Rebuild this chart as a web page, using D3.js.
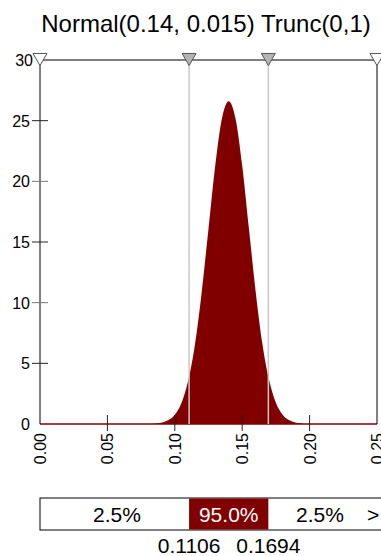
<!DOCTYPE html>
<html>
<head>
<meta charset="utf-8">
<script src="https://cdn.jsdelivr.net/npm/d3@7"></script>
<style>
  body { margin: 0; background: #fff; }
  svg { font-family: "Liberation Sans", Arial, sans-serif; }
</style>
</head>
<body>
<svg width="381" height="556"></svg>
<script>
const title = "Normal(0.14, 0.015) Trunc(0,1)"

// density
const xs = [0, 0.05, 0.075, 0.08, 0.085, 0.09, 0.095, 0.10, 0.105, 0.11, 0.115, 0.12, 0.125, 0.13, 0.135, 0.14,
            0.145, 0.15, 0.155, 0.16, 0.165, 0.17, 0.175, 0.18, 0.185, 0.19, 0.195, 0.20, 0.205, 0.25]
const density = [0, 0, 0.002, 0.009, 0.03, 0.10, 0.30, 0.76, 1.75, 3.6, 6.6, 10.9, 16.1, 21.3, 25.2, 26.6,
                 25.2, 21.3, 16.1, 10.9, 6.6, 3.6, 1.75, 0.76, 0.30, 0.10, 0.03, 0.009, 0.002, 0]

const xTicks = [0, 0.05, 0.10, 0.15, 0.20, 0.25]
const yTicks = [0, 5, 10, 15, 20, 25, 30]
const cutoffs = [0.1106, 0.1694]
const bandLabels = ["2.5%", "95.0%", "2.5%"]

const svg = d3.select("svg")

const x = d3.scaleLinear().domain([0, 0.25]).range([40, 377])
const y = d3.scaleLinear().domain([0, 30]).range([424, 60])

svg.append("text")
    .attr("x", 206)
    .attr("y", 32)
    .attr("text-anchor", "middle")
    .style("font-size", "24px")
    .text(title)

// area
const area = d3.area()
    .x((d, i) => x(xs[i]))
    .y0(y(0))
    .y1(d => y(d))
    .curve(d3.curveMonotoneX)

svg.append("path")
    .datum(density)
    .attr("d", area)
    .attr("fill", "#800000")

// baseline
svg.append("line")
    .attr("x1", x(0)).attr("x2", x(0.25))
    .attr("y1", y(0)).attr("y2", y(0))
    .attr("stroke", "#800000")
    .attr("stroke-width", 1.5)

// cutoff lines
svg.selectAll("line.cut")
    .data(cutoffs)
    .enter()
    .append("line")
    .attr("class", "cut")
    .attr("x1", d => x(d)).attr("x2", d => x(d))
    .attr("y1", y(30)).attr("y2", y(0))
    .attr("stroke", "#c8c8c8")
    .attr("stroke-width", 1.5)

// left / right axis lines
svg.append("line")
    .attr("x1", x(0)).attr("x2", x(0))
    .attr("y1", y(30)).attr("y2", y(0))
    .attr("stroke", "#000")
svg.append("line")
    .attr("x1", x(0.25)).attr("x2", x(0.25))
    .attr("y1", y(30)).attr("y2", y(0))
    .attr("stroke", "#000")

// top line
svg.append("line")
    .attr("x1", x(0)).attr("x2", x(0.25))
    .attr("y1", y(30)).attr("y2", y(30))
    .attr("stroke", "#555")
    .attr("stroke-width", 1.5)

// y ticks
const yAxis = svg.append("g")
yAxis.selectAll("line")
    .data(yTicks.filter(d => d > 0 && d < 30))
    .enter()
    .append("line")
    .attr("x1", x(0) - 8).attr("x2", x(0) + 8)
    .attr("y1", d => y(d)).attr("y2", d => y(d))
    .attr("stroke", (d, i) => i % 2 ? "#777" : "#222")
yAxis.selectAll("text")
    .data(yTicks)
    .enter()
    .append("text")
    .attr("x", d => d === 30 ? 33 : 30)
    .attr("y", d => y(d) + 6)
    .attr("text-anchor", "end")
    .style("font-size", "16px")
    .text(d => d)

// x ticks
const xAxis = svg.append("g")
xAxis.selectAll("line")
    .data(xTicks.slice(1, -1))
    .enter()
    .append("line")
    .attr("x1", d => x(d)).attr("x2", d => x(d))
    .attr("y1", y(0) - 9).attr("y2", y(0) + 7)
    .attr("stroke", "#222")
xAxis.selectAll("text")
    .data(xTicks)
    .enter()
    .append("text")
    .attr("transform", d => `translate(${x(d) + 6},${y(0) + 9}) rotate(-90)`)
    .attr("text-anchor", "end")
    .style("font-size", "16px")
    .text(d => d.toFixed(2))

// markers
const tri = d3.symbol().type(d3.symbolTriangle).size(85)
const markers = [0, ...cutoffs, 0.25]
svg.selectAll("path.marker")
    .data(markers)
    .enter()
    .append("path")
    .attr("class", "marker")
    .attr("d", tri)
    .attr("transform", d => `translate(${x(d)},${y(30) - 2.5}) rotate(180)`)
    .attr("fill", d => cutoffs.includes(d) ? "#b4b4b4" : "#fff")
    .attr("stroke", "#555")

// bottom band
const bandTop = 498, bandH = 32
svg.append("rect")
    .attr("x", x(0)).attr("y", bandTop)
    .attr("width", 381 - x(0) + 5).attr("height", bandH)
    .attr("fill", "#fff")
    .attr("stroke", "#000")
svg.append("rect")
    .attr("x", x(cutoffs[0])).attr("y", bandTop + 0.5)
    .attr("width", x(cutoffs[1]) - x(cutoffs[0])).attr("height", bandH - 1)
    .attr("fill", "#800000")

const bandCenters = [117, (x(cutoffs[0]) + x(cutoffs[1])) / 2, 320]
svg.selectAll("text.band")
    .data(bandLabels)
    .enter()
    .append("text")
    .attr("class", "band")
    .attr("x", (d, i) => bandCenters[i])
    .attr("y", bandTop + 24)
    .attr("text-anchor", "middle")
    .attr("fill", (d, i) => i === 1 ? "#fff" : "#000")
    .style("font-size", "21px")
    .text(d => d)

svg.append("text")
    .attr("x", 367).attr("y", bandTop + 24)
    .style("font-size", "21px")
    .text(">")

svg.selectAll("text.cutval")
    .data(cutoffs)
    .enter()
    .append("text")
    .attr("class", "cutval")
    .attr("x", d => x(d))
    .attr("y", 553)
    .attr("text-anchor", "middle")
    .style("font-size", "21px")
    .text(d => d.toFixed(4))
</script>
</body>
</html>
